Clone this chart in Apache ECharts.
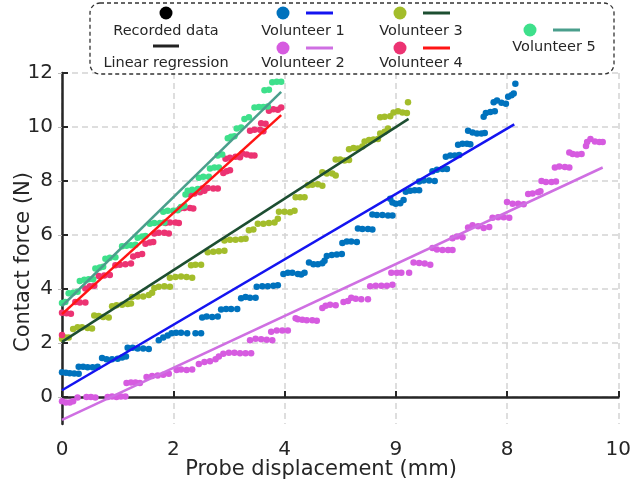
<!DOCTYPE html>
<html><head><meta charset="utf-8">
<script src="https://cdn.jsdelivr.net/npm/echarts@6/dist/echarts.min.js"></script>
<style>html,body{margin:0;padding:0;background:#fff}#c{width:634px;height:490px}</style>
</head><body><div id="c"></div><script>
const xTickValues = [0, 2, 4, 6, 8, 10];
const xTickLabels = ['0', '2', '4', '9', '8', '10'];
const yTickValues = [0, 2, 4, 6, 8, 10, 12];
const xTitle = 'Probe displacement (mm)';
const yTitle = 'Contact force (N)';
const volunteerNames = ['Volunteer 1', 'Volunteer 2', 'Volunteer 3', 'Volunteer 4', 'Volunteer 5'];
const legendLabels = ['Recorded data', 'Linear regression'];

const v1Points = [
  [0,0.92],[0.07,0.9],[0.14,0.88],[0.22,0.87],[0.3,0.86],
  [0.3,1.12],[0.38,1.12],[0.46,1.1],[0.55,1.1],[0.64,1.12],
  [0.72,1.44],[0.8,1.4],[0.9,1.4],[1.0,1.42],[1.08,1.46],[1.15,1.5],
  [1.18,1.82],[1.27,1.82],[1.36,1.8],[1.46,1.8],[1.56,1.78],
  [1.74,2.1],[1.82,2.2],[1.9,2.28],
  [1.97,2.36],[2.05,2.38],[2.14,2.38],[2.25,2.36],[2.4,2.36],[2.5,2.36],
  [2.52,2.94],[2.6,2.98],[2.7,2.96],[2.8,2.98],
  [2.86,3.24],[2.95,3.26],[3.04,3.26],[3.15,3.26],
  [3.22,3.66],[3.3,3.7],[3.38,3.68],[3.48,3.68],
  [3.5,4.08],[3.6,4.1],[3.7,4.1],[3.8,4.12],[3.88,4.14],
  [3.98,4.56],[4.06,4.6],[4.14,4.6],[4.24,4.56],[4.3,4.54],[4.36,4.6],
  [4.44,4.98],[4.52,4.92],[4.6,4.92],[4.68,4.95],[4.72,5.05],
  [4.76,5.22],[4.85,5.26],[4.94,5.28],[5.03,5.3],
  [5.04,5.7],[5.12,5.76],[5.2,5.76],[5.3,5.74],
  [5.32,6.24],[5.4,6.22],[5.5,6.22],[5.58,6.2],
  [5.58,6.76],[5.66,6.74],[5.76,6.74],[5.86,6.72],[5.94,6.72],
  [5.9,7.34],[5.94,7.2],[6.0,7.16],[6.08,7.18],[6.14,7.3],
  [6.18,7.6],[6.26,7.64],[6.34,7.66],[6.42,7.66],
  [6.42,7.98],[6.5,8.02],[6.6,8.02],[6.7,8.0],
  [6.66,8.36],[6.74,8.42],[6.84,8.44],[6.92,8.44],
  [6.9,8.9],[6.98,8.94],[7.06,8.94],[7.14,8.96],
  [7.12,9.34],[7.2,9.38],[7.28,9.38],[7.34,9.36],
  [7.3,9.86],[7.38,9.8],[7.46,9.76],[7.54,9.76],[7.6,9.78],
  [7.58,10.38],[7.62,10.52],[7.7,10.56],[7.78,10.58],
  [7.76,10.92],[7.82,10.98],[7.9,10.9],[7.98,10.86],
  [8.02,11.12],[8.08,11.18],[8.12,11.24],
  [8.15,11.6]
];
const v2Points = [
  [0,-0.16],[0.07,-0.2],[0.14,-0.2],[0.2,-0.16],
  [0.28,-0.02],
  [0.44,0],[0.52,0],[0.6,-0.02],
  [0.82,0],[0.9,0.02],[0.98,0],[1.06,0.02],[1.14,0.02],
  [1.16,0.52],[1.24,0.54],[1.32,0.54],[1.4,0.52],
  [1.52,0.74],[1.62,0.78],[1.72,0.8],[1.82,0.82],[1.92,0.86],
  [2.06,1.0],[2.14,1.02],[2.24,1.0],[2.34,1.02],
  [2.46,1.22],[2.56,1.3],[2.66,1.32],[2.76,1.4],[2.82,1.5],
  [2.9,1.6],[3.0,1.64],[3.1,1.64],[3.2,1.62],[3.3,1.62],[3.4,1.62],
  [3.38,2.1],[3.48,2.16],[3.58,2.14],[3.68,2.12],[3.78,2.1],
  [3.76,2.42],[3.86,2.46],[3.96,2.46],[4.06,2.46],
  [4.2,2.92],[4.24,2.88],[4.32,2.86],[4.4,2.84],[4.5,2.84],[4.58,2.82],
  [4.68,3.3],[4.74,3.38],[4.82,3.42],[4.92,3.4],
  [5.06,3.52],[5.14,3.56],[5.2,3.68],[5.28,3.64],[5.38,3.62],[5.5,3.62],
  [5.54,4.1],[5.64,4.12],[5.74,4.12],[5.84,4.12],[5.94,4.16],
  [5.92,4.6],[6.02,4.6],[6.1,4.6],[6.24,4.6],
  [6.32,4.98],[6.42,4.96],[6.52,4.94],[6.62,4.9],
  [6.66,5.52],[6.74,5.46],[6.84,5.44],[6.94,5.44],[7.02,5.44],
  [7.02,5.88],[7.1,5.94],[7.2,5.92],
  [7.3,6.28],[7.38,6.36],[7.48,6.32],[7.58,6.26],[7.68,6.3],
  [7.74,6.64],[7.84,6.66],[7.94,6.66],[8.04,6.64],
  [8.0,7.22],[8.1,7.16],[8.2,7.16],[8.3,7.14],
  [8.38,7.52],[8.46,7.54],[8.56,7.58],[8.6,7.62],
  [8.62,8.0],[8.7,7.96],[8.8,7.96],[8.88,7.98],
  [8.86,8.5],[8.94,8.54],[9.04,8.52],[9.12,8.5],
  [9.12,9.06],[9.18,9.0],[9.26,8.98],[9.34,9.0],
  [9.42,9.3],[9.44,9.44],[9.5,9.56],[9.58,9.46],[9.66,9.44],[9.72,9.44]
];
const v3Points = [
  [0,2.16],[0.06,2.2],[0.12,2.2],
  [0.2,2.52],[0.28,2.58],[0.36,2.58],[0.46,2.56],[0.54,2.54],
  [0.58,3.02],[0.66,3.0],[0.74,2.96],[0.84,2.94],
  [0.9,3.36],[0.98,3.4],[1.08,3.42],[1.18,3.44],[1.24,3.46],
  [1.26,3.7],[1.36,3.72],[1.46,3.72],[1.56,3.78],[1.62,3.86],
  [1.66,4.04],[1.74,4.08],[1.84,4.1],[1.94,4.08],
  [1.94,4.42],[2.04,4.44],[2.14,4.46],[2.24,4.44],[2.34,4.42],
  [2.32,4.88],[2.4,4.9],[2.5,4.9],
  [2.62,5.36],[2.72,5.38],[2.82,5.4],[2.92,5.42],
  [2.92,5.8],[3.02,5.82],[3.12,5.82],[3.22,5.84],[3.3,5.86],
  [3.36,6.18],[3.44,6.2],
  [3.52,6.42],[3.62,6.42],[3.72,6.44],[3.82,6.46],[3.88,6.6],
  [3.9,6.86],[4.0,6.86],[4.1,6.84],[4.18,6.9],
  [4.2,7.4],[4.28,7.4],[4.36,7.4],
  [4.42,7.84],[4.5,7.86],[4.6,7.88],[4.68,7.82],
  [4.68,8.32],[4.76,8.28],[4.86,8.28],[4.92,8.2],
  [4.92,8.8],[5.0,8.8],[5.08,8.76],[5.16,8.78],
  [5.16,9.18],[5.24,9.22],[5.32,9.2],[5.4,9.28],
  [5.44,9.46],[5.52,9.52],[5.6,9.54],[5.68,9.56],
  [5.72,9.76],[5.8,9.82],[5.86,9.94],
  [5.72,10.36],[5.8,10.38],[5.9,10.4],
  [5.96,10.54],[6.04,10.58],[6.12,10.54],[6.2,10.52],
  [6.22,10.92]
];
const v4Points = [
  [0,2.3],
  [0,3.12],[0.08,3.1],[0.16,3.08],
  [0.24,3.52],[0.32,3.5],[0.42,3.5],
  [0.42,4.02],[0.5,4.1],[0.58,4.12],
  [0.66,4.48],[0.76,4.5],[0.86,4.52],
  [0.96,4.88],[1.04,4.9],[1.14,4.92],[1.24,4.94],
  [1.28,5.2],[1.36,5.26],[1.44,5.3],
  [1.5,5.68],[1.58,5.72],[1.64,5.74],
  [1.66,6.06],[1.74,6.08],[1.84,6.08],[1.92,6.06],
  [1.86,6.44],[1.94,6.46],[2.04,6.46],[2.1,6.44],
  [2.12,6.98],[2.2,7.0],[2.3,7.0],[2.36,6.98],
  [2.3,7.5],[2.38,7.54],[2.48,7.58],[2.56,7.64],
  [2.52,7.72],[2.62,7.74],[2.72,7.72],[2.8,7.72],
  [2.9,8.3],[2.96,8.36],[3.02,8.4],
  [2.94,8.82],[3.02,8.86],[3.12,8.9],[3.2,8.88],
  [3.24,9.02],[3.32,8.98],[3.4,8.94],[3.46,8.94],
  [3.38,9.86],[3.46,9.9],[3.56,9.9],[3.62,9.84],
  [3.58,10.14],[3.66,10.12],
  [3.72,10.6],[3.8,10.66],[3.88,10.64],[3.94,10.72]
];
const v5Points = [
  [0,3.48],[0.06,3.52],
  [0.12,3.84],[0.2,3.86],[0.28,3.9],
  [0.32,4.3],[0.4,4.34],[0.48,4.36],[0.56,4.36],
  [0.6,4.76],[0.68,4.8],[0.74,4.82],
  [0.78,5.12],[0.86,5.16],[0.96,5.18],
  [1.08,5.58],[1.16,5.6],[1.24,5.62],[1.32,5.64],
  [1.36,5.9],[1.44,5.94],[1.5,5.96],
  [1.58,6.42],[1.66,6.44],[1.76,6.44],[1.84,6.46],
  [1.82,6.86],[1.9,6.9],[2.0,6.9],[2.08,6.92],
  [2.14,7.04],[2.2,7.08],
  [2.22,7.5],[2.26,7.64],[2.34,7.68],[2.44,7.7],
  [2.46,8.12],[2.54,8.16],[2.64,8.16],
  [2.66,8.46],[2.74,8.5],[2.82,8.5],
  [2.8,8.94],[2.88,8.98],
  [2.98,9.58],[3.04,9.64],[3.1,9.66],
  [3.14,9.94],[3.22,9.98],
  [3.28,10.3],[3.36,10.36],
  [3.46,10.72],[3.54,10.74],[3.62,10.74],[3.7,10.76],
  [3.64,11.36],[3.72,11.38],
  [3.78,11.66],[3.86,11.68],[3.94,11.68]
];
const v1Fit = [[0,0.25],[8.13,10.1]];
const v2Fit = [[0,-0.85],[9.72,8.5]];
const v3Fit = [[0,2.04],[6.23,10.3]];
const v4Fit = [[0,3.07],[3.94,10.44]];
const v5Fit = [[0,3.37],[3.94,11.3]];

const dotColors = ['#0072BD', '#D65BE0', '#A3BD2B', '#EC3372', '#3EE08B'];
const lineColors = ['#1414F0', '#CF6FE2', '#1D4E31', '#FF1414', '#4A9E8C'];

const FONT = "'DejaVu Sans',sans-serif";
const TXT = '#262626';

const pointSets = [v1Points, v2Points, v3Points, v4Points, v5Points];
const fitSets = [v1Fit, v2Fit, v3Fit, v4Fit, v5Fit];

const series = [];
pointSets.forEach((pts, i) => {
  series.push({
    name: volunteerNames[i] + ' data', type: 'scatter', data: pts,
    symbolSize: 6.5, itemStyle: { color: dotColors[i], opacity: 1 }, z: 2, silent: true
  });
});
fitSets.forEach((pts, i) => {
  series.push({
    name: volunteerNames[i] + ' fit', type: 'line', data: pts, showSymbol: false,
    lineStyle: { color: lineColors[i], width: 2.5 }, z: 3, silent: true
  });
});

// legend graphics
const g = [];
g.push({ type: 'rect', shape: { x: 90, y: 3, width: 524, height: 71, r: 10 },
  style: { fill: '#fff', stroke: '#333', lineWidth: 1.3, lineDash: [4, 3] }, z: 10 });
function dot(x, y, c) { g.push({ type: 'circle', shape: { cx: x, cy: y, r: 6.5 }, style: { fill: c }, z: 11 }); }
function seg(x1, x2, y, c) { g.push({ type: 'line', shape: { x1: x1, y1: y, x2: x2, y2: y }, style: { stroke: c, lineWidth: 3 }, z: 11 }); }
function txt(x, y, s) { g.push({ type: 'text', x: x, y: y, style: { text: s, fill: TXT, font: '14.5px ' + FONT, align: 'center', verticalAlign: 'middle' }, z: 11 }); }
dot(166, 13, '#000'); txt(166, 31, legendLabels[0]);
seg(153, 179, 46, '#222'); txt(166, 63, legendLabels[1]);
dot(283, 13, dotColors[0]); seg(306, 333, 13, lineColors[0]); txt(303, 31, volunteerNames[0]);
dot(283, 48, dotColors[1]); seg(306, 333, 48, lineColors[1]); txt(303, 63, volunteerNames[1]);
dot(400, 13, dotColors[2]); seg(423, 450, 13, lineColors[2]); txt(421, 31, volunteerNames[2]);
dot(400, 48, dotColors[3]); seg(423, 450, 48, lineColors[3]); txt(421, 63, volunteerNames[3]);
dot(530, 30, dotColors[4]); seg(553, 580, 30, lineColors[4]); txt(554, 47, volunteerNames[4]);
// axis titles
g.push({ type: 'text', x: 321, y: 470, style: { text: xTitle, fill: TXT, font: '21px ' + FONT, align: 'center', verticalAlign: 'middle' }, z: 11 });
g.push({ type: 'text', x: 24, y: 262, rotation: Math.PI / 2, style: { text: yTitle, fill: TXT, font: '21px ' + FONT, align: 'center', verticalAlign: 'middle' }, z: 11 });

const chart = echarts.init(document.getElementById('c'), null, { renderer: 'canvas' });
chart.setOption({
  animation: false,
  backgroundColor: '#fff',
  grid: { left: 62, right: 9, top: 73, bottom: 66, containLabel: false },
  xAxis: {
    type: 'value', min: 0, max: 10, interval: 2,
    axisLine: { show: true, lineStyle: { color: TXT, width: 2.5 } },
    axisTick: { show: true, inside: true, length: 6, lineStyle: { color: TXT, width: 2 } },
    axisLabel: { color: TXT, fontFamily: FONT, fontSize: 20, margin: 16,
      formatter: v => { const k = xTickValues.indexOf(v); return k >= 0 ? xTickLabels[k] : ''; } },
    splitLine: { show: true, lineStyle: { color: '#d3d3d3', width: 1.5, type: [6, 4] } }
  },
  yAxis: [{
    type: 'value', min: -1, max: 12,
    axisLine: { show: true, onZero: false, lineStyle: { color: TXT, width: 2.5 } },
    axisTick: { show: true, inside: true, length: 6, lineStyle: { color: TXT, width: 2 }, customValues: yTickValues },
    axisLabel: { color: TXT, fontFamily: FONT, fontSize: 20, margin: 9, customValues: yTickValues },
    splitLine: { show: true, lineStyle: { color: '#d3d3d3', width: 1.5, type: [6, 4] } }
  }, {
    type: 'value', min: -1, max: 12, position: 'right',
    axisLine: { show: false },
    axisTick: { show: true, inside: true, length: 4, lineStyle: { color: '#bbb', width: 1 }, customValues: yTickValues },
    axisLabel: { show: false },
    splitLine: { show: false }
  }],
  series: series,
  graphic: g
});
</script></body></html>
